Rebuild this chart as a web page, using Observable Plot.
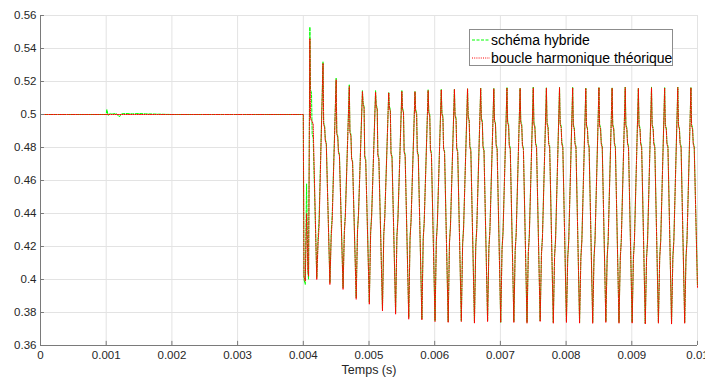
<!DOCTYPE html>
<html>
<head>
<meta charset="utf-8">
<script src="https://cdn.jsdelivr.net/npm/d3@7"></script>
<script src="https://cdn.jsdelivr.net/npm/@observablehq/plot@0.6"></script>
<style>
  html, body { margin: 0; padding: 0; background: #fff; overflow: hidden; }
  #wrap { position: relative; width: 705px; height: 380px; font-family: "Liberation Sans", Arial, Helvetica, sans-serif; }
  #legend { position: absolute; left: 469px; top: 29px; width: 204px; height: 37px; background: #fff; border: 1px solid #8c8c8c; box-sizing: border-box; }
  .row { position: absolute; left: 0; height: 18px; }
  .row svg { position: absolute; left: 2px; top: 0; }
  .row span { position: absolute; left: 21px; top: 0; font-size: 14px; line-height: 18px; color: #000; white-space: nowrap; }
</style>
</head>
<body>
<div id="wrap"></div>
<script>
// ---- Axis ticks ----
const xTicks = [0, 0.001, 0.002, 0.003, 0.004, 0.005, 0.006, 0.007, 0.008, 0.009, 0.01];
const xTickLabels = ["0", "0.001", "0.002", "0.003", "0.004", "0.005", "0.006", "0.007", "0.008", "0.009", "0.01"];
const yTicks = [0.36, 0.38, 0.4, 0.42, 0.44, 0.46, 0.48, 0.5, 0.52, 0.54, 0.56];
const yTickLabels = ["0.36", "0.38", "0.4", "0.42", "0.44", "0.46", "0.48", "0.5", "0.52", "0.54", "0.56"];
const xLabel = "Temps (s)";
const seriesNames = ["schéma hybride", "boucle harmonique théorique"];

// ---- Initial part (before oscillation) ----
const preTimeG = [0, 0.001, 0.00101, 0.00103, 0.00106, 0.0011, 0.00115, 0.0012, 0.00123, 0.0013, 0.0014, 0.0015, 0.0016, 0.0018, 0.002, 0.004, 0.00401, 0.00403, 0.00405, 0.00407, 0.00408];
const preValueG = [0.5, 0.5, 0.503, 0.4995, 0.5006, 0.5003, 0.5007, 0.4985, 0.5004, 0.5006, 0.5004, 0.5006, 0.5004, 0.5002, 0.5, 0.5, 0.4, 0.397, 0.458, 0.405, 0.4];
const preTimeR = [0, 0.004, 0.00401, 0.00403, 0.00405, 0.00407, 0.00408];
const preValueR = [0.5, 0.5, 0.402, 0.399, 0.44, 0.405, 0.402];

// ---- Oscillation, one entry per cycle (time of each peak) ----
const peakTime = [0.0041, 0.0043, 0.0045, 0.0047, 0.0049, 0.0051, 0.0053, 0.0055, 0.0057, 0.0059,
                  0.0061, 0.0063, 0.0065, 0.0067, 0.0069, 0.0071, 0.0073, 0.0075, 0.0077, 0.0079,
                  0.0081, 0.0083, 0.0085, 0.0087, 0.0089, 0.0091, 0.0093, 0.0095, 0.0097, 0.0099];
// schéma hybride (green)
const peakG = [0.553, 0.532, 0.522, 0.518, 0.5145, 0.5145, 0.5135, 0.5145, 0.514, 0.515, 0.5152, 0.5155, 0.5156, 0.516, 0.5158, 0.5165, 0.516, 0.5166, 0.5162, 0.5165, 0.5166, 0.516, 0.5165, 0.5162, 0.5166, 0.516, 0.5165, 0.5163, 0.5166, 0.5165];
const step1G = [0.515, 0.495, 0.489, 0.49, 0.507, 0.506, 0.505, 0.504, 0.503, 0.502, 0.501, 0.5, 0.499, 0.498, 0.497, 0.496, 0.496, 0.495, 0.495, 0.495, 0.494, 0.494, 0.494, 0.494, 0.494, 0.494, 0.494, 0.494, 0.494, 0.494];
const step2G = [0.486, 0.483, 0.476, 0.472, 0.473, 0.474, 0.475, 0.476, 0.476, 0.477, 0.478, 0.478, 0.479, 0.479, 0.48, 0.48, 0.48, 0.481, 0.481, 0.481, 0.481, 0.481, 0.481, 0.481, 0.481, 0.481, 0.481, 0.481, 0.481, 0.481];
const troughG = [0.401, 0.398, 0.395, 0.389, 0.386, 0.382, 0.38, 0.377, 0.376, 0.375, 0.3745, 0.375, 0.374, 0.375, 0.374, 0.3745, 0.374, 0.375, 0.374, 0.3745, 0.374, 0.374, 0.3745, 0.374, 0.374, 0.3735, 0.374, 0.3735, 0.374, 0.374];
const riseG = [0.432, 0.435, 0.436, 0.436, 0.435, 0.434, 0.433, 0.432, 0.431, 0.43, 0.429, 0.428, 0.427, 0.426, 0.425, 0.424, 0.423, 0.422, 0.421, 0.42, 0.42, 0.42, 0.42, 0.42, 0.42, 0.42, 0.42, 0.42, 0.42, 0.42];
const endG = 0.396;
// boucle harmonique théorique (red)
const peakR = [0.546, 0.531, 0.521, 0.517, 0.514, 0.5135, 0.5132, 0.514, 0.5138, 0.5145, 0.515, 0.5152, 0.5155, 0.5158, 0.5156, 0.516, 0.5158, 0.5162, 0.516, 0.5163, 0.5162, 0.5158, 0.5163, 0.516, 0.5164, 0.5158, 0.5162, 0.516, 0.5164, 0.5162];
const step1R = [0.498, 0.494, 0.488, 0.489, 0.506, 0.505, 0.504, 0.503, 0.502, 0.501, 0.5, 0.499, 0.498, 0.497, 0.496, 0.495, 0.495, 0.494, 0.494, 0.494, 0.493, 0.493, 0.493, 0.493, 0.493, 0.493, 0.493, 0.493, 0.493, 0.493];
const step2R = [0.494, 0.482, 0.475, 0.471, 0.472, 0.473, 0.474, 0.475, 0.475, 0.476, 0.477, 0.477, 0.478, 0.478, 0.479, 0.479, 0.479, 0.48, 0.48, 0.48, 0.48, 0.48, 0.48, 0.48, 0.48, 0.48, 0.48, 0.48, 0.48, 0.48];
const troughR = [0.4, 0.397, 0.394, 0.388, 0.385, 0.381, 0.379, 0.376, 0.3755, 0.3745, 0.374, 0.3745, 0.3735, 0.3745, 0.374, 0.374, 0.3735, 0.3745, 0.3735, 0.374, 0.3735, 0.3735, 0.374, 0.3735, 0.3735, 0.373, 0.3735, 0.373, 0.3735, 0.3735];
const riseR = [0.428, 0.432, 0.434, 0.435, 0.434, 0.433, 0.432, 0.431, 0.43, 0.429, 0.428, 0.427, 0.426, 0.425, 0.424, 0.423, 0.422, 0.421, 0.42, 0.419, 0.419, 0.419, 0.419, 0.419, 0.419, 0.419, 0.419, 0.419, 0.419, 0.419];
const endR = 0.395;

const tEnd = 0.01;

function buildSeries(name, preT, preV, peak, s1, s2, tr, rise, endV) {
  const pts = preT.map((t, i) => ({t, v: preV[i], name}));
  peakTime.forEach((tp, k) => {
    pts.push({t: tp, v: peak[k], name});
    pts.push({t: tp + 0.00001, v: s1[k], name});
    pts.push({t: tp + 0.000025, v: s1[k] - 0.002, name});
    pts.push({t: tp + 0.000035, v: s2[k] + 0.002, name});
    pts.push({t: tp + 0.00005, v: s2[k], name});
    pts.push({t: tp + 0.000105, v: tr[k], name});
    pts.push({t: tp + 0.000125, v: rise[k] - 0.006, name});
    pts.push({t: tp + 0.00014, v: rise[k] + 0.004, name});
  });
  const out = pts.filter(p => p.t < tEnd);
  out.push({t: tEnd, v: endV, name});
  return out;
}

const green = buildSeries(seriesNames[0], preTimeG, preValueG, peakG, step1G, step2G, troughG, riseG, endG);
const red = buildSeries(seriesNames[1], preTimeR, preValueR, peakR, step1R, step2R, troughR, riseR, endR);

const xFmt = new Map(xTicks.map((d, i) => [d, xTickLabels[i]]));
const yFmt = new Map(yTicks.map((d, i) => [d, yTickLabels[i]]));

const gridColor = "#e3e3e3";
const axisColor = "#7a7a7a";

const chart = Plot.plot({
  width: 705,
  height: 380,
  marginLeft: 40,
  marginRight: 8,
  marginTop: 15,
  marginBottom: 35,
  style: {fontFamily: "'Liberation Sans', Arial, Helvetica, sans-serif", fontSize: "11.5px", color: "#262626", background: "#fff"},
  x: {domain: [0, 0.01], ticks: xTicks, tickFormat: d => xFmt.get(d), tickSize: 0, tickPadding: 5, label: null},
  y: {domain: [0.36, 0.56], ticks: yTicks, tickFormat: d => yFmt.get(d), tickSize: 0, tickPadding: 4, label: null},
  marks: [
    Plot.ruleX(xTicks, {stroke: gridColor, strokeWidth: 1}),
    Plot.ruleY(yTicks, {stroke: gridColor, strokeWidth: 1}),
    Plot.line(green, {x: "t", y: "v", stroke: "#00ff00", strokeWidth: 1, strokeDasharray: "3,1.5"}),
    Plot.line(red, {x: "t", y: "v", stroke: "#ff0000", strokeWidth: 1, strokeDasharray: "1,1.2"}),
    Plot.ruleX([0], {stroke: axisColor, strokeWidth: 1}),
    Plot.ruleY([0.36], {stroke: axisColor, strokeWidth: 1}),
    Plot.ruleX(xTicks, {y1: 0.36, y2: 0.3625, stroke: axisColor, strokeWidth: 1}),
    Plot.ruleY(yTicks, {x1: 0, x2: 0.00006, stroke: axisColor, strokeWidth: 1}),
    Plot.text([xLabel], {frameAnchor: "bottom", dy: 28, fontSize: 12.5, fill: "#262626"})
  ]
});

const wrap = document.getElementById("wrap");
wrap.appendChild(chart);

// Legend (overlaid inside the plot area, top right)
const legend = document.createElement("div");
legend.id = "legend";
const legendItems = [
  {name: seriesNames[0], color: "#00ff00", dash: "3,1.5", top: 1},
  {name: seriesNames[1], color: "#ff0000", dash: "1,1.2", top: 19}
];
legendItems.forEach(item => {
  const row = document.createElement("div");
  row.className = "row";
  row.style.top = item.top + "px";
  row.innerHTML = `<svg width="18" height="18"><line x1="0" x2="18" y1="9" y2="9" stroke="${item.color}" stroke-width="1" stroke-dasharray="${item.dash}"/></svg><span>${item.name}</span>`;
  legend.appendChild(row);
});
wrap.appendChild(legend);
</script>
</body>
</html>
